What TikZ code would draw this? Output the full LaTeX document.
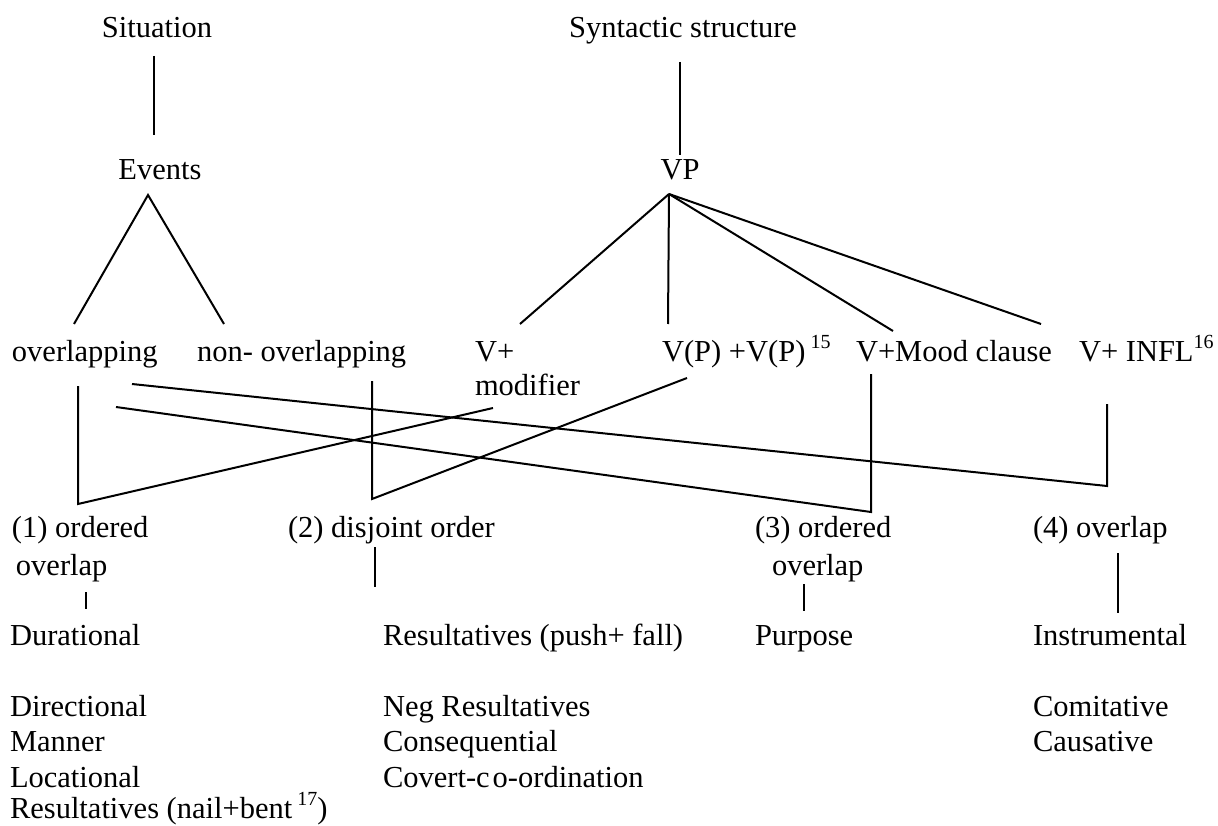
\documentclass[tikz,border=0pt]{standalone}
\usepackage{fontspec}
\setmainfont{Liberation Serif}
\newcommand{\supnum}[1]{\raisebox{13pt}{\fontsize{20}{20}\selectfont #1}}
\begin{document}
\begin{tikzpicture}[x=1pt,y=-1pt,
  lbl/.style={inner sep=0pt, outer sep=0pt, font=\fontsize{30.5}{36}\selectfont, anchor=base west},
  ctr/.style={lbl, anchor=base},
  ln/.style={line width=2pt}]
\useasboundingbox (0,0) rectangle (1218,826);
% top
\node[ctr] (sit) at (157,38) {Situation};
\node[ctr] (syn) at (683,38) {Syntactic structure};
\node[ctr] (ev) at (160,180) {Events};
\node[ctr] (vp) at (680,180) {VP};
% second row
\node[lbl] (ovl) at (12,361) {overlapping};
\node[lbl] (novl) at (197,361) {non- overlapping};
\node[lbl] (vmod) at (475,361) {V+};
\node[lbl] (vmod2) at (475,395) {modifier};
\node[lbl] (vpvp) at (662,361) {V(P) +V(P)\,\supnum{15}};
\node[lbl] (vmood) at (856,361) {V+Mood clause};
\node[lbl] (vinfl) at (1079,361) {V+ INFL\supnum{16}};
% third row
\node[lbl] (c1) at (12,537) {(1) ordered};
\node[lbl] (c1b) at (16,575) {overlap};
\node[lbl] (c2) at (288,537) {(2) disjoint order};
\node[lbl] (c3) at (755,537) {(3) ordered};
\node[lbl] (c3b) at (772,575) {overlap};
\node[lbl] (c4) at (1033,537) {(4) overlap};
% bottom lists
\node[lbl] (dur) at (10,645) {Durational};
\node[lbl] (dir) at (10,716) {Directional};
\node[lbl] (man) at (10,751) {Manner};
\node[lbl] (loc) at (10,787) {Locational};
\node[lbl] (resn) at (10,818) {Resultatives (nail+bent\,\supnum{17})};
\node[lbl] (resp) at (383,645) {Resultatives (push+ fall)};
\node[lbl] (neg) at (383,716) {Neg Resultatives};
\node[lbl] (cons) at (383,751) {Consequential};
\node[lbl] (cov) at (383,787) {Covert-c\kern3pt o-ordination};
\node[lbl] (pur) at (755,645) {Purpose};
\node[lbl] (ins) at (1033,645) {Instrumental};
\node[lbl] (com) at (1033,716) {Comitative};
\node[lbl] (cau) at (1033,751) {Causative};
% coordinates
\coordinate (sitB) at (154,56);   \coordinate (evT) at (154,135);
\coordinate (synB) at (680,62);   \coordinate (vpT) at (680,155);
\coordinate (evA) at (148,195);
\coordinate (ovlT) at (74,324);   \coordinate (novlT) at (224,324);
\coordinate (vpA) at (669,194);
\coordinate (vmodT) at (520,324); \coordinate (vpvpT) at (668,324);
\coordinate (vmoodT) at (893,331);\coordinate (vinflT) at (1041,324);
\coordinate (ovlB) at (78,386);   \coordinate (c1T) at (78,504);
\coordinate (vmodB) at (493,408);
\coordinate (novlB) at (372,381); \coordinate (c2T) at (372,499);
\coordinate (vpvpB) at (687,378);
\coordinate (ovlR1) at (116,407); \coordinate (c3T) at (871,512);
\coordinate (vmoodB) at (871,374);
\coordinate (ovlR2) at (132,384); \coordinate (c4T) at (1107,486);
\coordinate (vinflB) at (1107,404);
\coordinate (c1bB) at (86,592);   \coordinate (durT) at (86,609);
\coordinate (c2B) at (375,547);   \coordinate (respT) at (375,587);
\coordinate (c3bB) at (804,584);  \coordinate (purT) at (804,611);
\coordinate (c4B) at (1118,553);  \coordinate (insT) at (1118,613);
% connectors
\draw[ln] (sitB) -- (evT);
\draw[ln] (synB) -- (vpT);
\draw[ln] (ovlT) -- (evA) -- (novlT);
\draw[ln] (vpA) -- (vmodT);
\draw[ln] (vpA) -- (vpvpT);
\draw[ln] (vpA) -- (vmoodT);
\draw[ln] (vpA) -- (vinflT);
\draw[ln] (ovlB) -- (c1T) -- (vmodB);
\draw[ln] (novlB) -- (c2T) -- (vpvpB);
\draw[ln] (ovlR1) -- (c3T) -- (vmoodB);
\draw[ln] (ovlR2) -- (c4T) -- (vinflB);
\draw[ln] (c1bB) -- (durT);
\draw[ln] (c2B) -- (respT);
\draw[ln] (c3bB) -- (purT);
\draw[ln] (c4B) -- (insT);
\end{tikzpicture}
\end{document}
